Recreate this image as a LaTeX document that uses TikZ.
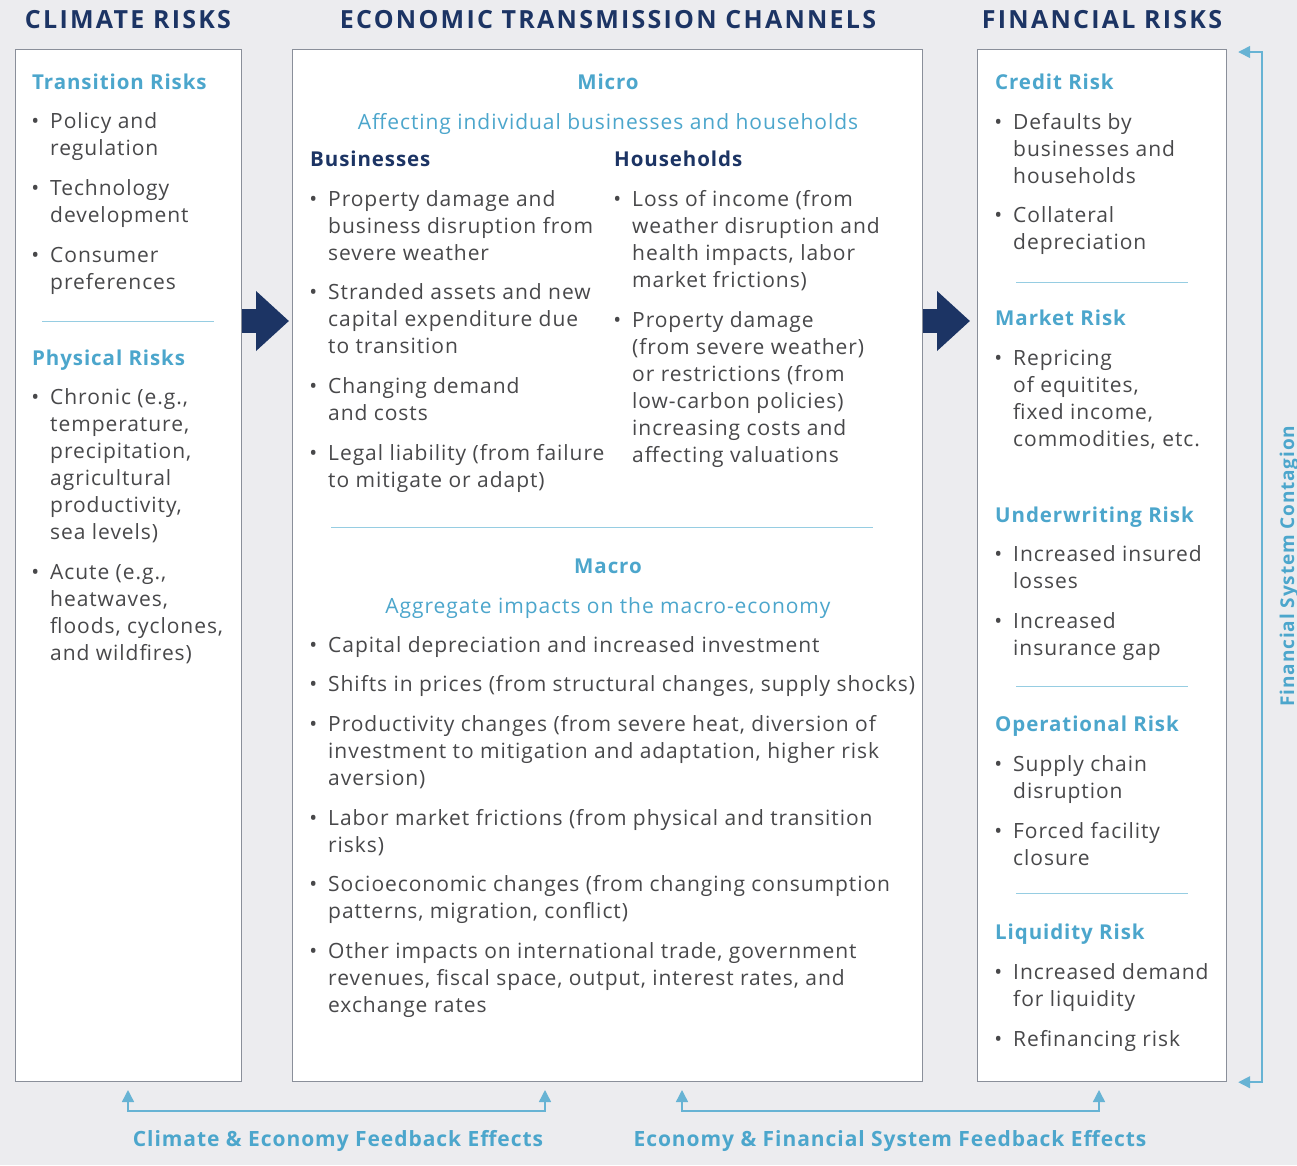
\documentclass[tikz,border=0pt]{standalone}
\usepackage{fontspec}
\setmainfont[LetterSpace=4.5]{Open Sans}
\newfontfamily\spacedfam[LetterSpace=9]{Open Sans}
\usetikzlibrary{arrows.meta}
\definecolor{riskNavy}{RGB}{28,52,100}
\definecolor{riskBlue}{RGB}{76,166,204}
\definecolor{riskText}{RGB}{72,72,74}
\definecolor{riskBg}{RGB}{236,236,239}
\definecolor{riskFrame}{RGB}{138,143,154}
\definecolor{riskRule}{RGB}{150,205,226}
\newcommand{\bodysize}{\fontsize{21}{27}\selectfont}
\newcommand{\stack}[1]{\begin{tabular}[t]{@{}l@{}}#1\end{tabular}}

\begin{document}
\begin{tikzpicture}[x=1pt, y=-1pt,
  panel/.style={draw=riskFrame, line width=1.2pt, fill=white, anchor=north west, inner sep=0pt},
  title/.style={anchor=base, text=riskNavy, font=\spacedfam\bfseries\fontsize{25}{27}\selectfont},
  subhead/.style={anchor=base west, inner sep=0pt, text=riskBlue, font=\bfseries\fontsize{20.5}{27}\selectfont},
  groupname/.style={anchor=base west, inner sep=0pt, text=riskNavy, font=\bfseries\fontsize{20.5}{27}\selectfont},
  tagline/.style={anchor=base, inner sep=0pt, text=riskBlue, font=\bodysize},
  item/.style={anchor=base west, inner sep=0pt, text=riskText, font=\bodysize,
    execute at begin node={\llap{\textbullet\hspace{11pt}}}},
  divider/.style={draw=riskRule, line width=1pt},
  flow/.style={riskNavy, line width=24pt, -{Triangle[length=33pt, width=58pt]}},
  feedback/.style={draw=riskBlue!85, line width=1.5pt,
    {Triangle[length=12pt, width=12pt]}-{Triangle[length=12pt, width=12pt]}},
  feedlabel/.style={anchor=base, inner sep=0pt, text=riskBlue, font=\bfseries\fontsize{21}{27}\selectfont}]

\fill[riskBg] (0,0) rectangle (1297,1165);
\useasboundingbox (0,0) rectangle (1297,1165);

% column titles
\node[title] (tclimate) at (128,28) {CLIMATE RISKS};
\node[title] (tchannels) at (608,28) {ECONOMIC TRANSMISSION CHANNELS};
\node[title] (tfinance) at (1102,28) {FINANCIAL RISKS};

% the three panels
\node[panel, minimum width=226, minimum height=1032] (climate) at (15,49) {};
\node[panel, minimum width=630, minimum height=1032] (channels) at (292,49) {};
\node[panel, minimum width=249, minimum height=1032] (finance) at (977,49) {};

% climate risks
\node[subhead] (transition) at (32,89) {Transition Risks};
\node[item] (tr1) at (50,128) {\stack{Policy and\\regulation}};
\node[item] (tr2) at (50,195) {\stack{Technology\\development}};
\node[item] (tr3) at (50,262) {\stack{Consumer\\preferences}};
\draw[divider] (42,321) -- (214,321);
\node[subhead] (physical) at (32,365) {Physical Risks};
\node[item] (ph1) at (50,404) {\stack{Chronic (e.g.,\\temperature,\\precipitation,\\agricultural\\productivity,\\sea levels)}};
\node[item] (ph2) at (50,579) {\stack{Acute (e.g.,\\heatwaves,\\floods, cyclones,\\and wildfires)}};

% micro channels
\node[subhead, anchor=base] (micro) at (608,89) {Micro};
\node[tagline] (microtag) at (608,129) {Affecting individual businesses and households};
\node[groupname] (business) at (310,166) {Businesses};
\node[groupname] (household) at (614,166) {Households};
\node[item] (bu1) at (328,206) {\stack{Property damage and\\business disruption from\\severe weather}};
\node[item] (bu2) at (328,299) {\stack{Stranded assets and new\\capital expenditure due\\to transition}};
\node[item] (bu3) at (328,393) {\stack{Changing demand\\and costs}};
\node[item] (bu4) at (328,460) {\stack{Legal liability (from failure\\to mitigate or adapt)}};
\node[item] (ho1) at (632,206) {\stack{Loss of income (from\\weather disruption and\\health impacts, labor\\market frictions)}};
\node[item] (ho2) at (632,327) {\stack{Property damage\\(from severe weather)\\or restrictions (from\\low-carbon policies)\\increasing costs and\\affecting valuations}};
\draw[divider] (331,527) -- (873,527);

% macro channels
\node[subhead, anchor=base] (macro) at (608,573) {Macro};
\node[tagline] (macrotag) at (608,613) {Aggregate impacts on the macro-economy};
\node[item] (ma1) at (328,652) {Capital depreciation and increased investment};
\node[item] (ma2) at (328,691) {Shifts in prices (from structural changes, supply shocks)};
\node[item] (ma3) at (328,731) {\stack{Productivity changes (from severe heat, diversion of\\investment to mitigation and adaptation, higher risk\\aversion)}};
\node[item] (ma4) at (328,825) {\stack{Labor market frictions (from physical and transition\\risks)}};
\node[item] (ma5) at (328,891) {\stack{Socioeconomic changes (from changing consumption\\patterns, migration, conflict)}};
\node[item] (ma6) at (328,958) {\stack{Other impacts on international trade, government\\revenues, fiscal space, output, interest rates, and\\exchange rates}};

% financial risks
\node[subhead] (credit) at (995,89) {Credit Risk};
\node[item] (cr1) at (1013,129) {\stack{Defaults by\\businesses and\\households}};
\node[item] (cr2) at (1013,222) {\stack{Collateral\\depreciation}};
\draw[divider] (1016,282) -- (1188,282);
\node[subhead] (market) at (995,325) {Market Risk};
\node[item] (mk1) at (1013,365) {\stack{Repricing\\of equitites,\\fixed income,\\commodities, etc.}};
\node[subhead] (underwriting) at (995,522) {Underwriting Risk};
\node[item] (uw1) at (1013,561) {\stack{Increased insured\\losses}};
\node[item] (uw2) at (1013,628) {\stack{Increased\\insurance gap}};
\draw[divider] (1016,686) -- (1188,686);
\node[subhead] (operational) at (995,731) {Operational Risk};
\node[item] (op1) at (1013,771) {\stack{Supply chain\\disruption}};
\node[item] (op2) at (1013,838) {\stack{Forced facility\\closure}};
\draw[divider] (1016,893) -- (1188,893);
\node[subhead] (liquidity) at (995,939) {Liquidity Risk};
\node[item] (lq1) at (1013,979) {\stack{Increased demand\\for liquidity}};
\node[item] (lq2) at (1013,1046) {Refinancing risk};

% transmission arrows
\draw[flow] (climate.east |- 0,321) -- ([xshift=-3pt]channels.west |- 0,321);
\draw[flow] (channels.east |- 0,321) -- ([xshift=-7pt]finance.west |- 0,321);

% contagion loop
\coordinate (contop) at ([xshift=11pt, yshift=-3pt]finance.north east);
\coordinate (conbot) at ([xshift=11pt]finance.south east);
\draw[feedback] (contop) -- ++(24,0) |- (conbot);
\node[feedlabel, font=\bfseries\fontsize{19}{27}\selectfont, rotate=90] (contagion) at (1294,566) {Financial System Contagion};

% feedback effects
\coordinate (fbA) at (128,1090);
\coordinate (fbB) at (545,1090);
\coordinate (fbC) at (682,1090);
\coordinate (fbD) at (1099,1090);
\draw[feedback] (fbA) -- ++(0,21) -| (fbB);
\draw[feedback] (fbC) -- ++(0,21) -| (fbD);
\node[feedlabel] (climfeed) at (338,1146) {Climate \& Economy Feedback Effects};
\node[feedlabel] (finfeed) at (890,1146) {Economy \& Financial System Feedback Effects};
\end{tikzpicture}
\end{document}
